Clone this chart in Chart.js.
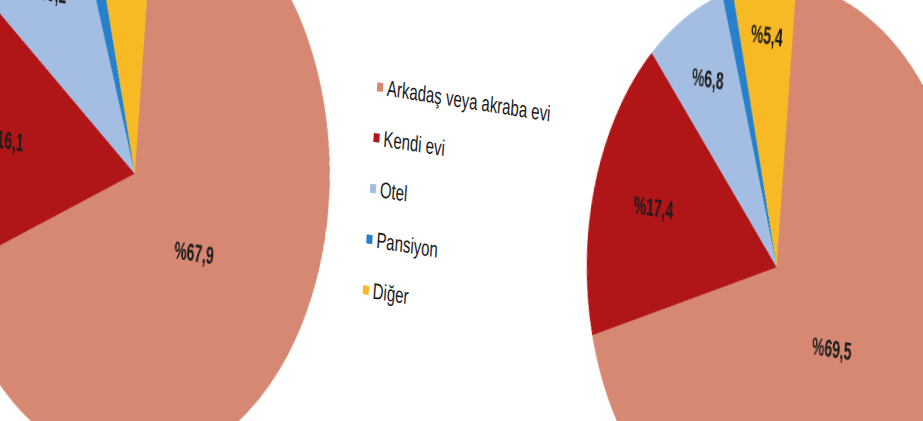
<!DOCTYPE html>
<html>
<head>
<meta charset="utf-8">
<script src="https://cdn.jsdelivr.net/npm/chart.js@4.4.1/dist/chart.umd.min.js"></script>
<style>
  html, body { margin: 0; padding: 0; background: #fff; overflow: hidden; }
  #page { position: relative; width: 923px; height: 421px; overflow: hidden; background: #fff; }
  #frame { position: absolute; left: 0; top: 0; width: 923px; height: 421px;
           transform-origin: 461px 210px; transform: scaleY(1.5) rotate(6deg); }
  canvas { position: absolute; }
  #legend { position: absolute; left: 0; top: 0; font-family: 'Liberation Sans', Arial, sans-serif;
            font-size: 15px; color: #1a1a1a; }
  .item { position: absolute; white-space: nowrap; line-height: 15px; }
  .sw { position: absolute; width: 6px; height: 6px; }
</style>
</head>
<body>
<div id="page">
  <div id="frame">
    <canvas id="left"></canvas>
    <canvas id="right"></canvas>
    <div id="legend"></div>
  </div>
</div>
<script>
const categories = ['Arkadaş veya akraba evi', 'Kendi evi', 'Otel', 'Pansiyon', 'Diğer'];
const leftValues = [67.9, 16.1, 9.2, 1.3, 5.5];
const rightValues = [69.5, 17.4, 6.8, 0.9, 5.4];
const sliceColors = ['#D68872', '#B01517', '#A4BDE2', '#2780CB', '#F7B924'];

function fmt(v) { return '%' + v.toFixed(1).replace('.', ','); }

function labelFrac(v) {
  if (v > 50) return 0.41;
  if (v >= 10) return 0.68;
  if (v >= 6) return 0.75;
  return 0.81;
}

const pieLabels = {
  id: 'pieLabels',
  afterDatasetsDraw(chart) {
    const ctx = chart.ctx;
    const meta = chart.getDatasetMeta(0);
    const data = chart.data.datasets[0].data;
    meta.data.forEach((arc, i) => {
      const v = data[i];
      if (v < 2) return;
      const p = arc.getProps(['x', 'y', 'startAngle', 'endAngle', 'outerRadius'], true);
      const mid = (p.startAngle + p.endAngle) / 2 + (v > 50 ? 0.07 : 0);
      const r = p.outerRadius * labelFrac(v);
      ctx.save();
      ctx.translate(p.x + Math.cos(mid) * r, p.y + Math.sin(mid) * r);
      ctx.scale(0.82, 1);
      ctx.font = "bold 17px 'Liberation Sans Narrow', 'Arial Narrow', 'Liberation Sans', Arial, sans-serif";
      ctx.fillStyle = '#1b1b1b';
      ctx.textAlign = 'center';
      ctx.textBaseline = 'middle';
      ctx.fillText(fmt(v), 0, 0);
      ctx.restore();
    });
  }
};

function makePie(id, values, cx, cy, R) {
  const cv = document.getElementById(id);
  cv.width = 2 * R; cv.height = 2 * R;
  cv.style.left = (cx - R) + 'px';
  cv.style.top = (cy - R) + 'px';
  cv.style.width = 2 * R + 'px';
  cv.style.height = 2 * R + 'px';
  return new Chart(cv, {
    type: 'pie',
    data: {
      labels: categories,
      datasets: [{ data: values, backgroundColor: sliceColors, borderWidth: 0, hoverOffset: 0, offset: 0 }]
    },
    options: {
      responsive: false,
      animation: false,
      devicePixelRatio: 2,
      events: [],
      layout: { padding: 0 },
      plugins: { legend: { display: false }, tooltip: { enabled: false } }
    },
    plugins: [pieLabels]
  });
}

makePie('left', leftValues, 134, 219.5, 195);
makePie('right', rightValues, 779, 215, 190);

const legend = document.getElementById('legend');
const legX = 372, legY0 = 137.0, legStep = 34.0;
categories.forEach((c, i) => {
  const y = legY0 + i * legStep;
  const sw = document.createElement('div');
  sw.className = 'sw';
  sw.style.left = (legX - 3) + 'px';
  sw.style.top = (y - 3) + 'px';
  sw.style.background = sliceColors[i];
  legend.appendChild(sw);
  const t = document.createElement('div');
  t.className = 'item';
  t.textContent = c;
  t.style.left = (legX + 7) + 'px';
  t.style.top = (y - 8.5) + 'px';
  legend.appendChild(t);
});
</script>
</body>
</html>
